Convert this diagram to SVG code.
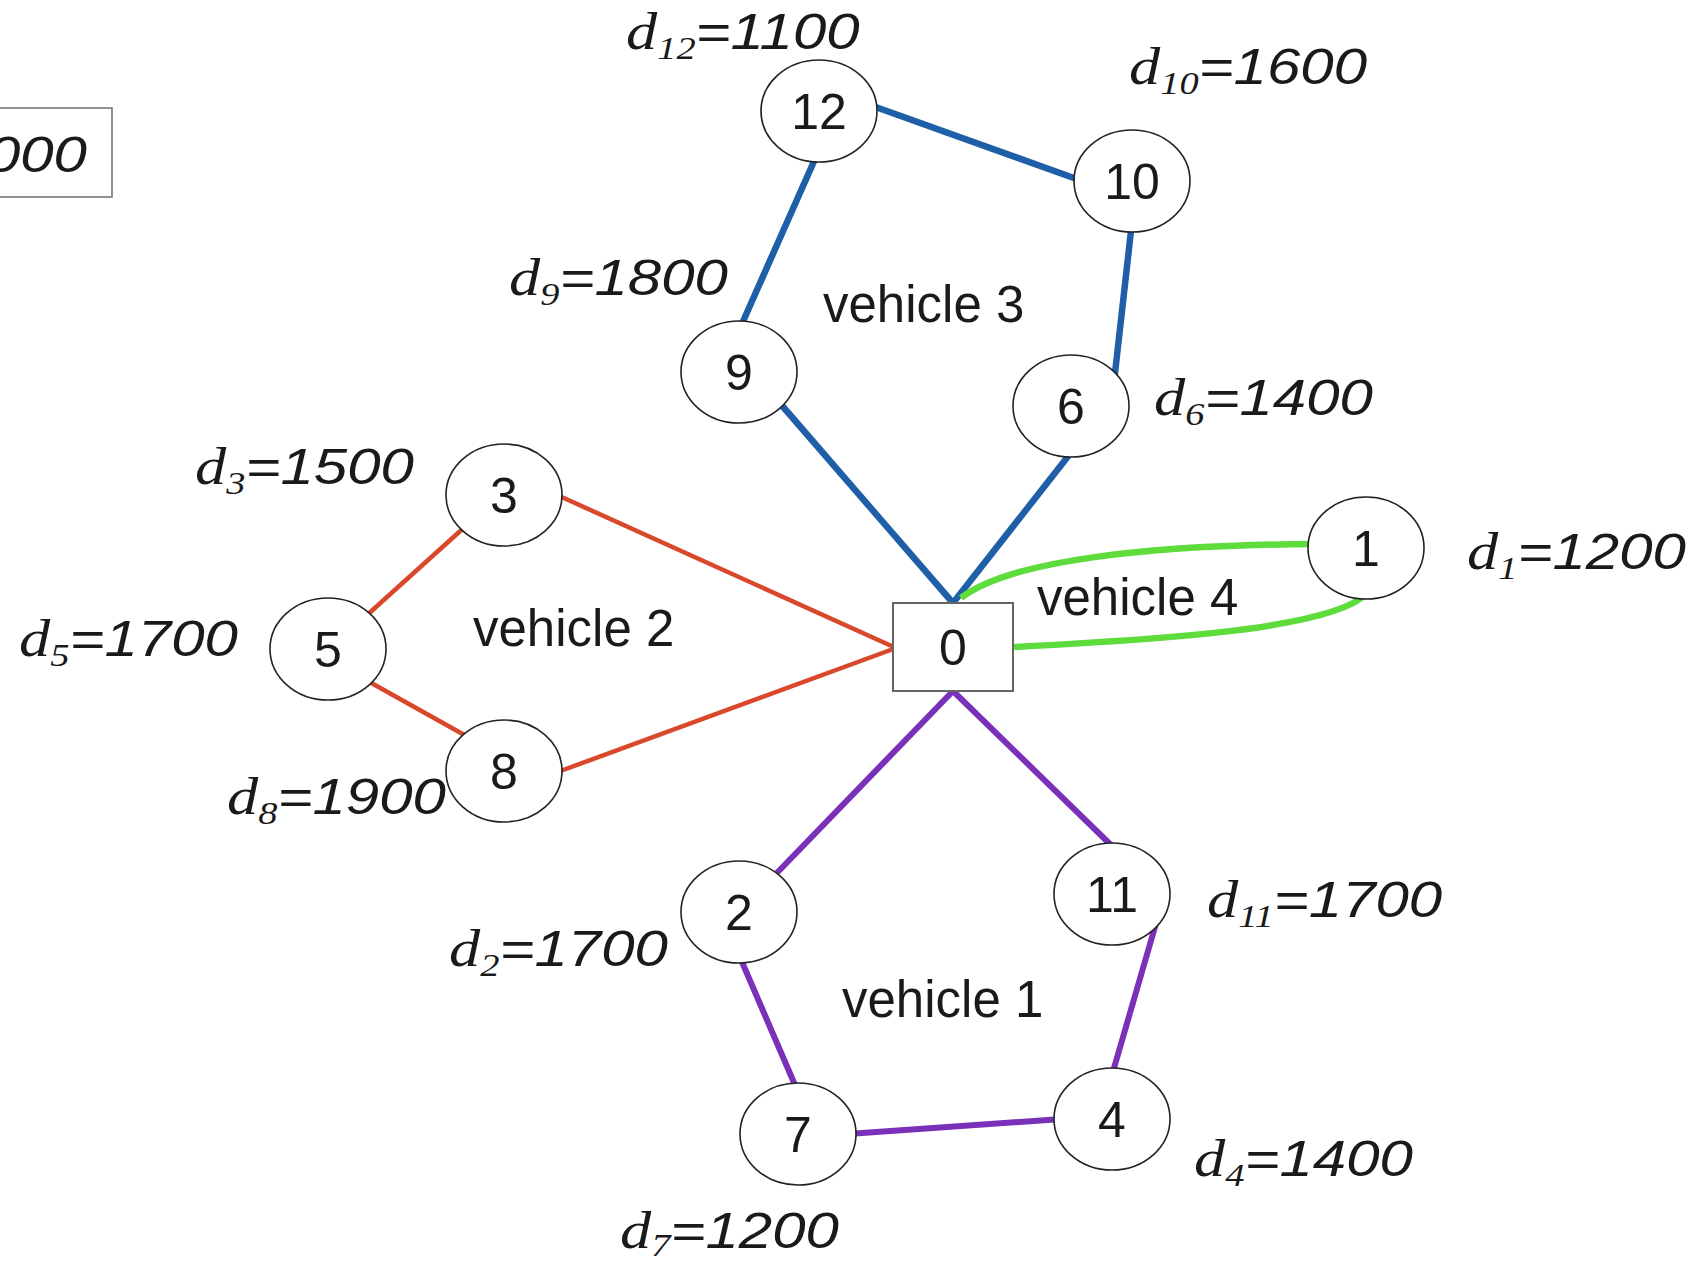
<svg xmlns="http://www.w3.org/2000/svg" width="1697" height="1262" viewBox="0 0 1697 1262">
<style>
.node ellipse{fill:#fff;stroke:#222;stroke-width:1.6}
.num{font-family:"Liberation Sans",Arial,sans-serif;font-size:50px;fill:#1a1a1a;text-anchor:middle}
.veh{font-family:"Liberation Sans",Arial,sans-serif;font-size:51px;fill:#1a1a1a}
.lbl{font-family:"Liberation Sans",Arial,sans-serif;font-style:italic;font-size:50px;fill:#1a1a1a}
.lbl .d{font-family:"Liberation Serif","Times New Roman",serif;font-size:52px}
.lbl .s{font-family:"Liberation Serif","Times New Roman",serif;font-size:32px}
.blue{stroke:#1e5fa8;stroke-width:6.5;fill:none}
.red{stroke:#d9482a;stroke-width:4.5;fill:none}
.purple{stroke:#7a30b8;stroke-width:6;fill:none}
.green{stroke:#5ddc3c;stroke-width:6.5;fill:none}
</style>
<rect width="1697" height="1262" fill="#fff"/>
<g id="legend">
<rect x="-20" y="108" width="132" height="89" fill="#fff" stroke="#777" stroke-width="1.6"/>
<text class="lbl" text-anchor="end" transform="translate(87,172) scale(1.2,1)">000</text>
</g>
<g id="connectors">
<line class="blue" x1="870" y1="105" x2="1085" y2="182"/>
<line class="blue" x1="819" y1="150" x2="741" y2="326"/>
<line class="blue" x1="1132" y1="222" x2="1114" y2="382"/>
<line class="blue" x1="778" y1="401" x2="953" y2="603"/>
<line class="blue" x1="1073" y1="450" x2="953" y2="603"/>
<line class="red" x1="555" y1="494" x2="896" y2="648"/>
<line class="red" x1="555" y1="773" x2="896" y2="648"/>
<line class="red" x1="468" y1="524" x2="366" y2="616"/>
<line class="red" x1="366" y1="680" x2="468" y2="737"/>
<line class="purple" x1="953" y1="691" x2="772" y2="878"/>
<line class="purple" x1="953" y1="691" x2="1112" y2="846"/>
<line class="purple" x1="739" y1="955" x2="798" y2="1092"/>
<line class="purple" x1="848" y1="1134" x2="1062" y2="1119"/>
<line class="purple" x1="1157" y1="920" x2="1112" y2="1075"/>
<path class="green" d="M961 598 C1010 560 1150 545 1315 544"/>
<path class="green" d="M1014 647 C1150 640 1330 630 1366 594"/>
</g>
<g id="node0"><rect x="893" y="603" width="120" height="88" fill="#fff" stroke="#666" stroke-width="2"/><text class="num" x="953" y="665">0</text></g>
<g id="node12" class="node"><ellipse cx="819" cy="111" rx="58" ry="51"/><text class="num" x="819" y="129">12</text></g>
<g id="node10" class="node"><ellipse cx="1132" cy="181" rx="58" ry="51"/><text class="num" x="1132" y="199">10</text></g>
<g id="node9" class="node"><ellipse cx="739" cy="372" rx="58" ry="51"/><text class="num" x="739" y="390">9</text></g>
<g id="node6" class="node"><ellipse cx="1071" cy="406" rx="58" ry="51"/><text class="num" x="1071" y="424">6</text></g>
<g id="node3" class="node"><ellipse cx="504" cy="495" rx="58" ry="51"/><text class="num" x="504" y="513">3</text></g>
<g id="node1" class="node"><ellipse cx="1366" cy="548" rx="58" ry="51"/><text class="num" x="1366" y="566">1</text></g>
<g id="node5" class="node"><ellipse cx="328" cy="649" rx="58" ry="51"/><text class="num" x="328" y="667">5</text></g>
<g id="node8" class="node"><ellipse cx="504" cy="771" rx="58" ry="51"/><text class="num" x="504" y="789">8</text></g>
<g id="node2" class="node"><ellipse cx="739" cy="912" rx="58" ry="51"/><text class="num" x="739" y="930">2</text></g>
<g id="node11" class="node"><ellipse cx="1112" cy="894" rx="58" ry="51"/><text class="num" x="1112" y="912">11</text></g>
<g id="node7" class="node"><ellipse cx="798" cy="1134" rx="58" ry="51"/><text class="num" x="798" y="1152">7</text></g>
<g id="node4" class="node"><ellipse cx="1112" cy="1119" rx="58" ry="51"/><text class="num" x="1112" y="1137">4</text></g>
<g id="vehicle-labels">
<text class="veh" x="823" y="322">vehicle 3</text>
<text class="veh" x="473" y="646">vehicle 2</text>
<text class="veh" x="1037" y="615">vehicle 4</text>
<text class="veh" x="842" y="1017">vehicle 1</text>
</g>
<g id="demand-labels">
<text class="lbl" transform="translate(626,49) scale(1.2,1)"><tspan class="d">d</tspan><tspan class="s" dy="10">12</tspan><tspan dy="-10">=1100</tspan></text>
<text class="lbl" transform="translate(1129,84) scale(1.2,1)"><tspan class="d">d</tspan><tspan class="s" dy="10">10</tspan><tspan dy="-10">=1600</tspan></text>
<text class="lbl" transform="translate(509,295) scale(1.2,1)"><tspan class="d">d</tspan><tspan class="s" dy="10">9</tspan><tspan dy="-10">=1800</tspan></text>
<text class="lbl" transform="translate(1154,415) scale(1.2,1)"><tspan class="d">d</tspan><tspan class="s" dy="10">6</tspan><tspan dy="-10">=1400</tspan></text>
<text class="lbl" transform="translate(195,484) scale(1.2,1)"><tspan class="d">d</tspan><tspan class="s" dy="10">3</tspan><tspan dy="-10">=1500</tspan></text>
<text class="lbl" transform="translate(1467,569) scale(1.2,1)"><tspan class="d">d</tspan><tspan class="s" dy="10">1</tspan><tspan dy="-10">=1200</tspan></text>
<text class="lbl" transform="translate(19,656) scale(1.2,1)"><tspan class="d">d</tspan><tspan class="s" dy="10">5</tspan><tspan dy="-10">=1700</tspan></text>
<text class="lbl" transform="translate(227,814) scale(1.2,1)"><tspan class="d">d</tspan><tspan class="s" dy="10">8</tspan><tspan dy="-10">=1900</tspan></text>
<text class="lbl" transform="translate(449,966) scale(1.2,1)"><tspan class="d">d</tspan><tspan class="s" dy="10">2</tspan><tspan dy="-10">=1700</tspan></text>
<text class="lbl" transform="translate(1207,917) scale(1.2,1)"><tspan class="d">d</tspan><tspan class="s" dy="10">11</tspan><tspan dy="-10">=1700</tspan></text>
<text class="lbl" transform="translate(1194,1176) scale(1.2,1)"><tspan class="d">d</tspan><tspan class="s" dy="10">4</tspan><tspan dy="-10">=1400</tspan></text>
<text class="lbl" transform="translate(620,1248) scale(1.2,1)"><tspan class="d">d</tspan><tspan class="s" dy="8">7</tspan><tspan dy="-8">=1200</tspan></text>
</g>
</svg>
